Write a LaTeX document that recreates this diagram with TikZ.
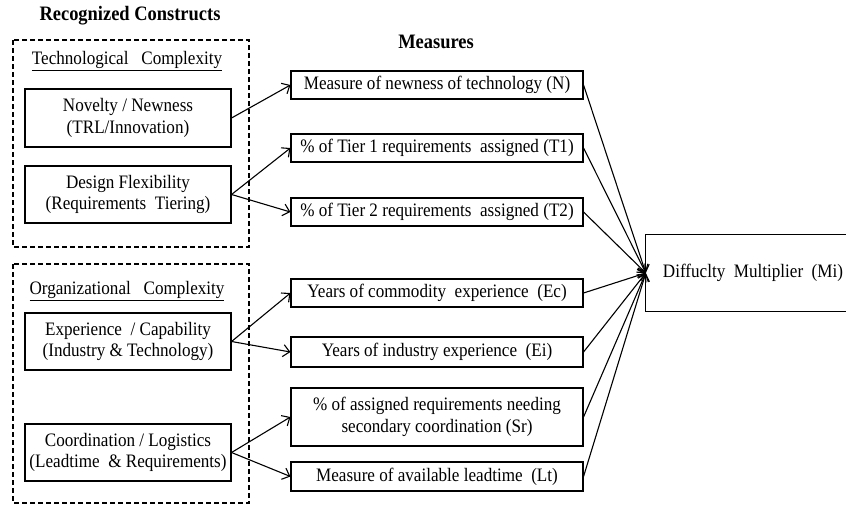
\documentclass[tikz,border=0pt]{standalone}
\usepackage{fontspec}
\setmainfont{Liberation Serif}[FakeStretch=0.9]
\usetikzlibrary{arrows.meta}
\begin{document}
\begin{tikzpicture}[x=1pt,y=-1pt,
  every node/.style={font=\fontsize{19}{21.5}\selectfont, align=center, inner sep=0pt},
  box/.style={draw, line width=1.1pt, rectangle},
  cbox/.style={box, minimum width=206pt, minimum height=57pt},
  mbox/.style={box, minimum width=292pt},
  group/.style={draw, dashed, dash pattern=on 5pt off 3pt, line width=1.1pt},
  head/.style={font=\fontsize{20.5}{23}\selectfont\bfseries},
  arr/.style={-{Straight Barb[length=6.5pt,width=12pt]}, line width=1.1pt}]
  \useasboundingbox (0,0) rectangle (846,506);
  \clip (0,0) rectangle (846,506);

  % headings
  \node[head] (hrc) at (130,16) {Recognized Constructs};
  \node[head] (hms) at (436,42) {Measures};

  % construct groups
  \draw[group] (13,40) rectangle (249,247);
  \draw[group] (13,264) rectangle (249,503);
  \node (tc) at (127,61) {\underline{Technological\ \ \ Complexity}};
  \node (oc) at (127,291) {\underline{Organizational\ \ \ Complexity}};

  % constructs
  \node[cbox, minimum height=58pt] (nov) at (128,118) {Novelty / Newness\\(TRL/Innovation)};
  \node[cbox] (des) at (128,194.5) {Design Flexibility\\(Requirements\ \ Tiering)};
  \node[cbox] (exp) at (128,341.5) {Experience\ \ / Capability\\(Industry \& Technology)};
  \node[cbox] (coo) at (128,452.5) {Coordination / Logistics\\(Leadtime\ \ \& Requirements)};

  % measures
  \node[mbox, minimum height=28pt] (mN)  at (437,85)    {Measure of newness of technology (N)};
  \node[mbox, minimum height=28pt] (mT1) at (437,148)   {\% of Tier 1 requirements\ \ assigned (T1)};
  \node[mbox, minimum height=28pt] (mT2) at (437,212)   {\% of Tier 2 requirements\ \ assigned (T2)};
  \node[mbox, minimum height=28pt] (mEc) at (437,293)   {Years of commodity\ \ experience\ \ (Ec)};
  \node[mbox, minimum height=30pt] (mEi) at (437,352)   {Years of industry experience\ \ (Ei)};
  \node[mbox, minimum height=58pt] (mSr) at (437,417)   {\% of assigned requirements needing\\secondary coordination (Sr)};
  \node[mbox, minimum height=29pt] (mLt) at (437,476.5) {Measure of available leadtime\ \ (Lt)};

  % result: the box is open on the right, running past the page edge
  \node[minimum width=214pt, minimum height=76pt] (mi) at (753,273) {Diffuclty\ \ Multiplier\ \ (Mi)};
  \draw[line width=1.1pt] ([xshift=40pt]mi.north east) -- (mi.north west)
    -- (mi.south west) -- ([xshift=40pt]mi.south east);

  % constructs to measures
  \draw[arr] (nov.east) -- (mN.west);
  \draw[arr] (des.east) -- (mT1.west);
  \draw[arr] (des.east) -- (mT2.west);
  \draw[arr] (exp.east) -- (mEc.west);
  \draw[arr] (exp.east) -- (mEi.west);
  \draw[arr] (coo.east) -- (mSr.west);
  \draw[arr] (coo.east) -- (mLt.west);

  % measures to multiplier
  \foreach \m in {mN,mT1,mT2,mEc,mEi,mSr,mLt}
    \draw[arr] (\m.east) -- (mi.west);
\end{tikzpicture}
\end{document}
